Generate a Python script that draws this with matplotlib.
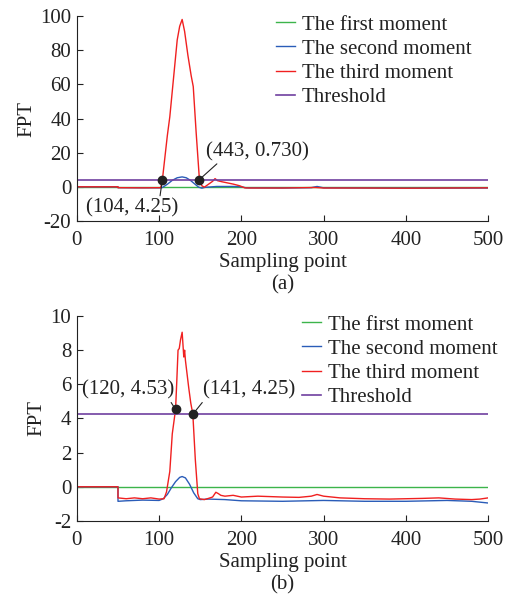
import matplotlib
matplotlib.use('Agg')
import matplotlib.pyplot as plt

plt.rcParams['font.family'] = ['Liberation Serif', 'DejaVu Serif']
plt.rcParams['font.size'] = 15
plt.rcParams['axes.unicode_minus'] = False

# Sampling points and moment curves, panel (a)
first_a_x = [0, 500]
first_a_y = [0, 0]
second_a_x = [0, 50, 50, 100, 104, 110, 116, 122, 128, 133, 138, 143, 148, 152, 156,
              170, 190, 200, 206, 250, 285, 292, 300, 400, 500]
second_a_y = [0, 0, -0.5, -0.6, -0.4, 1.5, 3.8, 5.3, 5.8, 5.3, 3.8, 1.8, -0.2, -0.8, -0.3,
              0.2, 0.2, 0.0, -0.6, -0.7, -0.5, 0.2, -0.6, -0.8, -0.7]
third_a_x = [0, 50, 50, 80, 102, 104, 110, 113, 118, 122, 125, 128, 131, 135, 139, 141.5,
             145, 149, 152, 155, 160, 165, 168, 171, 176, 182, 190, 198, 204, 210, 250,
             290, 300, 350, 400, 450, 500]
third_a_y = [0, 0, -0.5, -0.6, -0.5, 4.25, 30, 41, 66, 86, 94, 98, 91, 77, 65, 58.7,
             32, 4.25, 0.6, -0.2, 1.5, 3.2, 4.8, 3.6, 3.0, 2.4, 1.6, 0.6, -0.6, -0.7, -0.7,
             -0.4, -0.7, -0.7, -0.8, -0.7, -0.6]

# Panel (b)
first_b_x = [0, 500]
first_b_y = [0, 0]
second_b_x = [0, 50, 50, 60, 80, 100, 105, 110, 115, 120, 125, 128, 132, 137, 142, 147,
              150, 160, 180, 200, 250, 300, 350, 400, 450, 480, 500]
second_b_y = [0, 0, -0.85, -0.82, -0.78, -0.8, -0.7, -0.45, -0.05, 0.3, 0.55, 0.6, 0.52,
              0.15, -0.35, -0.7, -0.75, -0.72, -0.75, -0.82, -0.85, -0.8, -0.85, -0.85,
              -0.8, -0.85, -0.95]
third_b_x = [0, 50, 50, 60, 70, 80, 90, 100, 106, 109, 113, 116, 120, 121.5, 123, 124.5,
             126, 128, 130, 131, 132, 134, 136, 138.5, 141, 144, 147, 149, 155, 160, 165,
             169, 172, 175, 180, 190, 200, 220, 250, 270, 285, 292, 300, 320, 350, 380,
             400, 420, 440, 460, 480, 490, 500]
third_b_y = [0, 0, -0.65, -0.7, -0.65, -0.7, -0.65, -0.72, -0.7, -0.3, 0.9, 3.1, 4.53, 6.2,
             8.0, 8.1, 8.6, 9.05, 7.6, 8.0, 7.4, 6.6, 5.8, 4.9, 4.25, 1.6, -0.4, -0.7,
             -0.75, -0.68, -0.6, -0.32, -0.4, -0.5, -0.55, -0.5, -0.6, -0.55, -0.6, -0.62,
             -0.55, -0.45, -0.55, -0.65, -0.7, -0.72, -0.7, -0.68, -0.65, -0.72, -0.75,
             -0.72, -0.65]

threshold = 4.25

legend_labels = ['The first moment', 'The second moment', 'The third moment', 'Threshold']
colors = ['#3cb44b', '#2a5cb8', '#f02020', '#7040a0']

# Marked crossing points: (x, y, text, text position, line start on the text box)
points_a = [(104, 4.25, '(104, 4.25)', (67, -12.5), (0.8, 1.0)),
            (149, 4.25, '(443, 0.730)', (219, 20.7), (0.14, 0.0))]
points_b = [(120, 4.53, '(120, 4.53)', (62, 5.66), (0.95, 0.0)),
            (141, 4.25, '(141, 4.25)', (209, 5.66), (0.02, 0.0))]

fig = plt.figure(figsize=(5.09, 5.94), dpi=100)
ax_a = fig.add_axes([0.151, 0.628, 0.808, 0.345])
ax_b = fig.add_axes([0.151, 0.123, 0.808, 0.345])

panels = [
    (ax_a, first_a_x, first_a_y, second_a_x, second_a_y, third_a_x, third_a_y,
     points_a, (-20, 100), range(-20, 101, 20), '(a)', (0.484, 1.005)),
    (ax_b, first_b_x, first_b_y, second_b_x, second_b_y, third_b_x, third_b_y,
     points_b, (-2, 10), range(-2, 11, 2), '(b)', (0.547, 1.005)),
]

for (ax, fx, fy, sx, sy, tx, ty, pts, ylim, yticks, tag, leg_pos) in panels:
    ax.plot(fx, fy, color=colors[0], lw=1.0, label=legend_labels[0])
    ax.plot(sx, sy, color=colors[1], lw=1.0, label=legend_labels[1])
    ax.plot(tx, ty, color=colors[2], lw=1.0, label=legend_labels[2])
    ax.axhline(threshold, color=colors[3], lw=1.2, label=legend_labels[3])

    for px, py, txt, tpos, rel in pts:
        ax.plot(px, py, 'o', color='#222222', ms=6, zorder=5)
        ax.annotate(txt, xy=(px, py), xytext=tpos, ha='center', va='center',
                    color='#222222',
                    arrowprops=dict(arrowstyle='-', lw=0.8, color='#222222',
                                    shrinkA=0, shrinkB=0, relpos=rel))

    ax.set_xlim(0, 500)
    ax.set_ylim(*ylim)
    ax.set_xticks(range(0, 501, 100))
    ax.set_yticks(list(yticks))
    ax.spines['top'].set_visible(False)
    ax.spines['right'].set_visible(False)
    for sp in ('left', 'bottom'):
        ax.spines[sp].set_linewidth(0.8)
        ax.spines[sp].set_color('#222222')
    ax.tick_params(direction='in', length=4, width=0.8, colors='#222222',
                   labelsize=15, pad=4)
    ax.tick_params(axis='x', pad=7.5)
    ax.set_ylabel('FPT', color='#222222', labelpad=3)
    ax.set_xlabel('Sampling point\n' + tag, color='#222222', labelpad=2,
                  linespacing=1.25)

    leg = ax.legend(loc='upper left', bbox_to_anchor=leg_pos, frameon=False,
                    handlelength=0.9, handletextpad=0.35, labelspacing=0.22,
                    borderpad=0, borderaxespad=0, fontsize=15)
    for t in leg.get_texts():
        t.set_color('#222222')

fig.savefig('out.png', dpi=100)
